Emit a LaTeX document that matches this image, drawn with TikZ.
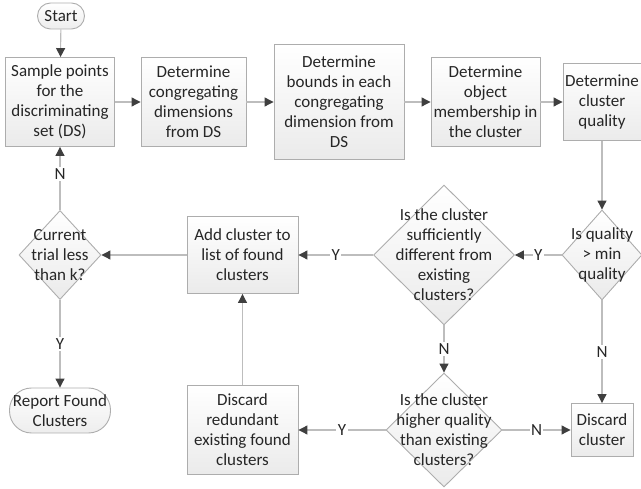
\documentclass[tikz,border=0pt]{standalone}
\usepackage{fontspec}
\setmainfont{Carlito}
\usepackage{tikz}
\usetikzlibrary{arrows.meta,positioning,shapes.geometric}
\definecolor{edgex}{HTML}{ADADAD}
\definecolor{linex}{HTML}{BDBDBD}
\definecolor{tipx}{HTML}{3F3F3F}
\definecolor{inkx}{HTML}{262626}
\tikzset{
  ar/.style={-{Triangle[length=9pt,width=9pt,color=tipx]},linex,line width=1.1pt},
  box/.style={draw=edgex,line width=0.9pt,top color=white,bottom color=black!8,align=center,inner sep=0pt,text=inkx},
  dec/.style={diamond,draw=edgex,line width=0.9pt,top color=white,bottom color=black!8,inner sep=0pt},
  term/.style={draw=edgex,line width=0.9pt,top color=white,bottom color=black!7,align=center,inner sep=0pt,text=inkx},
  lab/.style={fill=white,inner sep=1.5pt,text=inkx,midway}
}

\begin{document}
\begin{tikzpicture}[x=1pt,y=-1pt,font=\fontsize{17}{20}\selectfont]
\useasboundingbox (0,0) rectangle (641,489);
% top row
\node[term,rounded corners=13pt,minimum width=47pt,minimum height=26pt] (start) at (61,16) {Start};
\node[box,minimum width=109pt,minimum height=89pt] (sample) at (60,102) {Sample points\\for the\\discriminating\\set (DS)};
\node[box,minimum width=105pt,minimum height=89pt] (cong) at (193.5,102) {Determine\\congregating\\dimensions\\from DS};
\node[box,minimum width=130pt,minimum height=115pt] (bnds) at (339,102) {Determine\\bounds in each\\congregating\\dimension from\\DS};
\node[box,minimum width=109pt,minimum height=89pt] (memb) at (485.5,102) {Determine\\object\\membership in\\the cluster};
\node[box,minimum width=78pt,minimum height=77pt] (qual) at (602,102) {Determine\\cluster\\quality};
% middle row
\node[dec,minimum width=82pt,minimum height=89pt,label={[align=center,text=inkx]center:Current\\trial less\\than k?}] (trial) at (60,255) {};
\node[box,minimum width=111pt,minimum height=77pt] (add) at (242.5,255) {Add cluster to\\list of found\\clusters};
\node[dec,minimum width=141pt,minimum height=140pt,label={[align=center,text=inkx]center:Is the cluster\\sufficiently\\different from\\existing\\clusters?}] (diff) at (444,255) {};
\node[dec,minimum width=80pt,minimum height=90pt,label={[align=center,text=inkx]center:Is quality\\> min\\quality}] (isq) at (602,255) {};
% bottom row
\node[term,rounded corners=22pt,minimum width=101pt,minimum height=45pt] (report) at (60,410.5) {Report Found\\Clusters};
\node[box,minimum width=111pt,minimum height=89pt] (redund) at (242.5,430) {Discard\\redundant\\existing found\\clusters};
\node[dec,minimum width=116pt,minimum height=114pt,label={[align=center,text=inkx]center:Is the cluster\\higher quality\\than existing\\clusters?}] (higher) at (444,430) {};
\node[box,minimum width=62pt,minimum height=53pt] (disc) at (602,430) {Discard\\cluster};
% connectors
\draw[ar] (start) -- (sample);
\draw[ar] (sample) -- (cong);
\draw[ar] (cong) -- (bnds);
\draw[ar] (bnds) -- (memb);
\draw[ar] (memb) -- (qual);
\draw[ar] (qual) -- (isq);
\draw[ar] (isq) -- node[lab]{Y} (diff);
\draw[ar] (isq) -- node[lab]{N} (disc);
\draw[ar] (diff) -- node[lab]{Y} (add);
\draw[ar] (diff) -- node[lab]{N} (higher);
\draw[ar] (higher) -- node[lab]{N} (disc);
\draw[ar] (higher) -- node[lab]{Y} (redund);
\draw[ar] (redund) -- (add);
\draw[ar] (add) -- (trial);
\draw[ar] (trial) -- node[lab,pos=0.57]{N} (sample);
\draw[ar] (trial) -- node[lab]{Y} (report);
\end{tikzpicture}
\end{document}
